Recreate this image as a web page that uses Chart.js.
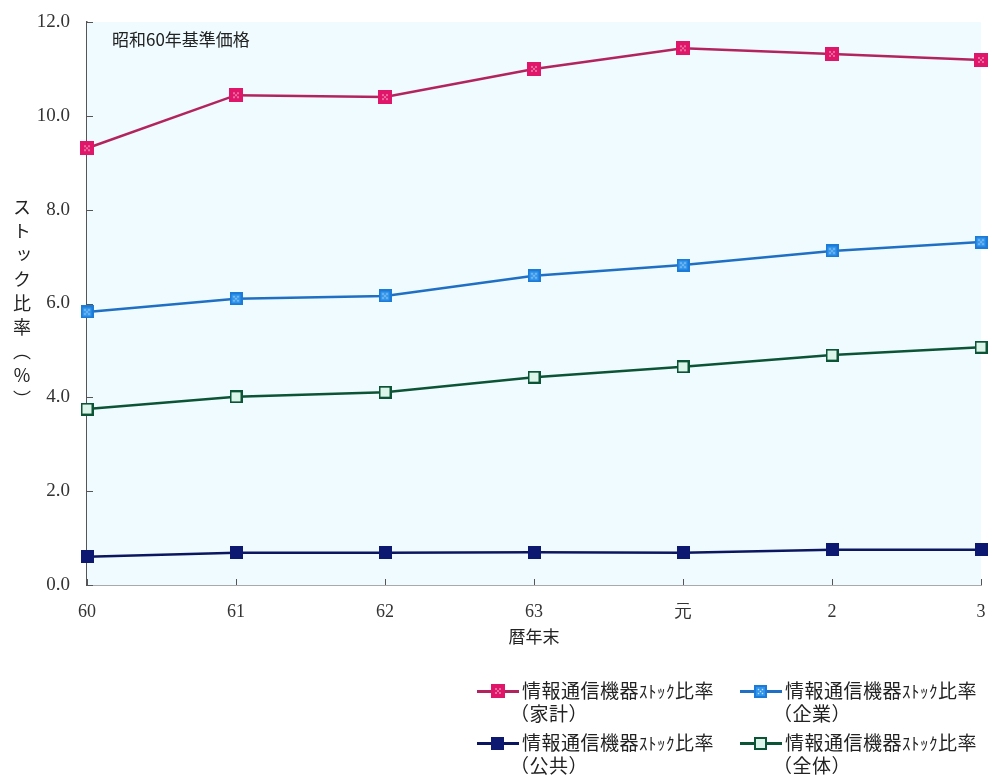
<!DOCTYPE html>
<html>
<head>
<meta charset="utf-8">
<script src="https://cdn.jsdelivr.net/npm/chart.js@4.4.1/dist/chart.umd.min.js"></script>
<style>
  body { margin: 0; background: #fff; }
  #wrap { position: relative; width: 1000px; height: 775px; }
  #yTitle {
    position: absolute; left: 9px; top: 198px;
    writing-mode: vertical-rl;
    font: 18px "Noto Sans CJK JP", sans-serif; color: #222;
    letter-spacing: 6px;
  }
  .leg { position: absolute; font: 19px "Noto Sans CJK JP", sans-serif; color: #222; line-height: 22px; }
  .leg .key { position: absolute; left: 0; top: 6px; width: 42px; height: 12px; }
  .leg .key i { position: absolute; left: 0; right: 0; top: 5px; height: 2.5px; }
  .leg .key img { position: absolute; left: 14px; top: 0; }
  .leg .txt { position: absolute; left: 45px; top: 0; white-space: nowrap; letter-spacing: 0.5px; }
  .leg .txt .sub { display: block; margin-left: -12px; }
  .leg .small { font-size: 17px; }
</style>
</head>
<body>
<div id="wrap">
  <canvas id="c" width="1000" height="775"></canvas>
  <div id="yTitle">ストック比率（％）</div>
  <div id="legend"></div>
</div>
<script>
const years = ['60', '61', '62', '63', '元', '2', '3'];
const labelPrefix = '情報通信機器';
const sectors = ['家計', '企業', '公共', '全体'];

const household = [9.31, 10.44, 10.40, 11.00, 11.44, 11.32, 11.19];
const business  = [5.82, 6.10, 6.16, 6.59, 6.82, 7.12, 7.31];
const publicSec = [0.60, 0.69, 0.69, 0.70, 0.69, 0.75, 0.75];
const overall   = [3.75, 4.01, 4.11, 4.43, 4.65, 4.90, 5.07];

const yTicks = [0, 2, 4, 6, 8, 10, 12];

// square markers, drawn once and reused in the chart and the legend
function marker(size, edge, fill, dotted) {
  const c = document.createElement('canvas');
  c.width = c.height = size;
  const g = c.getContext('2d');
  g.fillStyle = edge;
  g.fillRect(0, 0, size, size);
  const b = fill === edge ? 0 : 2;
  g.fillStyle = fill;
  g.fillRect(b, b, size - 2 * b, size - 2 * b);
  if (dotted) {
    g.fillStyle = 'rgba(255,255,255,0.75)';
    const m = size / 2;
    [[-2, -2], [2, -2], [0, 0], [-2, 2], [2, 2]].forEach(([dx, dy]) => g.fillRect(m + dx - 0.7, m + dy - 0.7, 1.4, 1.4));
  }
  return c;
}

const styles = [
  { line: '#b3245e', mark: marker(14, '#e0166a', '#e0166a', true) },
  { line: '#1f6fc4', mark: marker(13, '#1c7ad8', '#2f94ea', true) },
  { line: '#0c1660', mark: marker(13, '#0d1870', '#0d1870', false) },
  { line: '#0c5436', mark: marker(13, '#0c5436', '#dcf5ea', false) }
];
const series = [household, business, publicSec, overall];

const datasets = series.map((data, i) => ({
  label: labelPrefix + 'ストック比率（' + sectors[i] + '）',
  data,
  borderColor: styles[i].line,
  borderWidth: 2.5,
  pointStyle: styles[i].mark,
  pointRadius: 7,
  tension: 0
}));

const decor = {
  id: 'decor',
  beforeDatasetsDraw(chart) {
    const { ctx, chartArea: a } = chart;
    ctx.save();
    ctx.fillStyle = '#effbfe';
    ctx.fillRect(a.left, a.top, a.right - a.left, a.bottom - a.top);
    // short ticks pointing into the plot
    ctx.strokeStyle = '#555';
    ctx.lineWidth = 1;
    const y = chart.scales.y, x = chart.scales.x;
    yTicks.forEach(v => {
      const py = Math.round(y.getPixelForValue(v)) + 0.5;
      ctx.beginPath(); ctx.moveTo(a.left, py); ctx.lineTo(a.left + 6, py); ctx.stroke();
    });
    years.forEach((_, i) => {
      const px = Math.round(x.getPixelForValue(i)) + 0.5;
      ctx.beginPath(); ctx.moveTo(px, a.bottom); ctx.lineTo(px, a.bottom - 6); ctx.stroke();
    });
    ctx.restore();
  },
  afterDraw(chart) {
    const { ctx, chartArea: a } = chart;
    ctx.save();
    ctx.fillStyle = '#222';
    ctx.font = '17px "Noto Sans CJK JP"';
    ctx.textBaseline = 'middle';
    ctx.fillText('昭和60年基準価格', a.left + 25, 40);
    ctx.textAlign = 'center';
    ctx.fillText('暦年末', (a.left + a.right) / 2, 637);
    ctx.restore();
  }
};

new Chart(document.getElementById('c'), {
  type: 'line',
  data: { labels: years, datasets },
  options: {
    responsive: false,
    animation: false,
    layout: { padding: { top: 22, right: 19, left: 0, bottom: 0 } },
    plugins: { legend: { display: false }, tooltip: { enabled: false } },
    scales: {
      x: {
        offset: false,
        grid: { drawOnChartArea: false, drawTicks: false },
        border: { color: '#555', width: 1.5 },
        ticks: { color: '#333', padding: 16, font: { family: 'Liberation Serif', size: 18 } },
        afterFit: s => { s.height = 190; s.paddingRight = 0; s.paddingLeft = 0; }
      },
      y: {
        min: 0, max: 12,
        afterBuildTicks: s => { s.ticks = yTicks.map(v => ({ value: v })); },
        grid: { drawOnChartArea: false, drawTicks: false },
        border: { color: '#555', width: 1.5 },
        ticks: {
          color: '#333', padding: 17,
          font: { family: 'Liberation Serif', size: 19 },
          callback: v => v.toFixed(1)
        },
        afterFit: s => { s.width = 87; s.paddingTop = 0; s.paddingBottom = 0; }
      }
    }
  },
  plugins: [decor]
});

// two-by-two legend under the plot
const legendPos = [[477, 679], [740, 679], [477, 731], [740, 731]];
const legend = document.getElementById('legend');
sectors.forEach((name, i) => {
  const d = document.createElement('div');
  d.className = 'leg';
  d.style.left = legendPos[i][0] + 'px';
  d.style.top = legendPos[i][1] + 'px';
  const img = new Image();
  img.src = styles[i].mark.toDataURL();
  d.innerHTML = '<div class="key"><i style="background:' + styles[i].line + '"></i></div>' +
    '<div class="txt">' + labelPrefix + '<span class="small">ｽﾄｯｸ</span>比率' +
    '<span class="sub">（' + name + '）</span></div>';
  img.style.top = (6 - styles[i].mark.height / 2) + 'px';
  d.querySelector('.key').appendChild(img);
  legend.appendChild(d);
});
</script>
</body>
</html>
